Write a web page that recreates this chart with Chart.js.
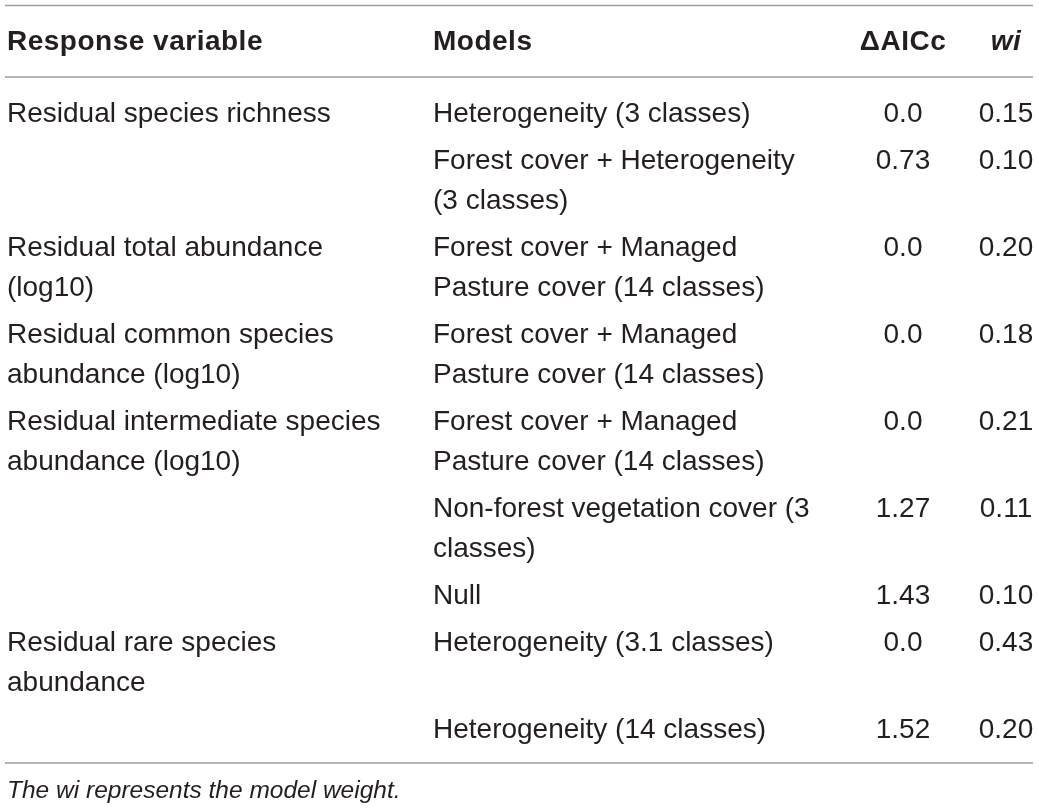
<!DOCTYPE html>
<html>
<head>
<meta charset="utf-8">
<title>Model selection table</title>
<script src="https://cdn.jsdelivr.net/npm/chart.js@4.4.1/dist/chart.umd.min.js"></script>
<style>
  html, body { margin: 0; padding: 0; background: #fff; }
  #wrap { width: 1039px; height: 812px; position: relative; }
</style>
</head>
<body>
<div id="wrap"><canvas id="tableChart"></canvas></div>
<script>
// table content
const headers = ['Response variable', 'Models', '\u0394AICc', 'wi'];
const responses = [
  ['Residual species richness'],
  [],
  ['Residual total abundance', '(log10)'],
  ['Residual common species', 'abundance (log10)'],
  ['Residual intermediate species', 'abundance (log10)'],
  [],
  [],
  ['Residual rare species', 'abundance'],
  []
];
const models = [
  ['Heterogeneity (3 classes)'],
  ['Forest cover + Heterogeneity', '(3 classes)'],
  ['Forest cover + Managed', 'Pasture cover (14 classes)'],
  ['Forest cover + Managed', 'Pasture cover (14 classes)'],
  ['Forest cover + Managed', 'Pasture cover (14 classes)'],
  ['Non-forest vegetation cover (3', 'classes)'],
  ['Null'],
  ['Heterogeneity (3.1 classes)'],
  ['Heterogeneity (14 classes)']
];
const deltaAICc = [0.0, 0.73, 0.0, 0.0, 0.0, 1.27, 1.43, 0.0, 1.52];
const weights = [0.15, 0.10, 0.20, 0.18, 0.21, 0.11, 0.10, 0.43, 0.20];
const footnote = 'The wi represents the model weight.';

// layout (in scale units = px of the 1039x812 canvas)
const colX = [7, 433, 903, 1006];
const colAlign = ['left', 'left', 'center', 'center'];
const headerY = 50;
const firstRowY = 122;
const lineH = 40;
const rowGap = 47;
const rules = [5.5, 77, 763];
const ruleX = [5, 1033];
const footY = 798;

const fmtDelta = v => Number.isInteger(v) ? v.toFixed(1) : String(v);

// build one point per text line, positioned by the chart scales
const cellPts = [[], [], [], []];
let y = firstRowY;
for (let i = 0; i < models.length; i++) {
  responses[i].forEach((t, k) => cellPts[0].push({ x: colX[0], y: y + k * lineH, text: t }));
  models[i].forEach((t, k) => cellPts[1].push({ x: colX[1], y: y + k * lineH, text: t }));
  cellPts[2].push({ x: colX[2], y: y, text: fmtDelta(deltaAICc[i]) });
  cellPts[3].push({ x: colX[3], y: y, text: weights[i].toFixed(2) });
  const n = Math.max(responses[i].length, models[i].length, 1);
  y += rowGap + lineH * (n - 1);
}

const BODY = '28px "Liberation Sans", Arial, sans-serif';
const HEAD = 'bold 28px "Liberation Sans", Arial, sans-serif';
const HEAD_IT = 'italic bold 28px "Liberation Sans", Arial, sans-serif';
const FOOT = 'italic 24.5px "Liberation Sans", Arial, sans-serif';

const datasets = [];
headers.forEach((h, c) => datasets.push({
  label: 'header ' + c,
  data: [{ x: colX[c], y: headerY, text: h }],
  font: c === 3 ? HEAD_IT : HEAD, align: colAlign[c], spacing: 0.5
}));
cellPts.forEach((pts, c) => datasets.push({
  label: 'col ' + c, data: pts, font: BODY, align: colAlign[c], spacing: 0
}));
datasets.push({
  label: 'footnote', data: [{ x: colX[0], y: footY, text: footnote }],
  font: FOOT, align: 'left', spacing: 0
});
datasets.forEach(d => { d.pointRadius = 0; d.pointHoverRadius = 0; });

const tableText = {
  id: 'tableText',
  beforeDatasetsDraw(chart) {
    const { ctx, scales } = chart;
    ctx.save();
    ctx.strokeStyle = '#9d9d9d';
    ctx.lineWidth = 1.5;
    rules.forEach(r => {
      const py = scales.y.getPixelForValue(r);
      ctx.beginPath();
      ctx.moveTo(scales.x.getPixelForValue(ruleX[0]), py);
      ctx.lineTo(scales.x.getPixelForValue(ruleX[1]), py);
      ctx.stroke();
    });
    ctx.restore();
  },
  afterDatasetsDraw(chart) {
    const ctx = chart.ctx;
    ctx.save();
    ctx.fillStyle = '#231f20';
    ctx.textBaseline = 'alphabetic';
    chart.data.datasets.forEach((ds, di) => {
      const meta = chart.getDatasetMeta(di);
      ctx.font = ds.font;
      ctx.textAlign = ds.align;
      if ('letterSpacing' in ctx) ctx.letterSpacing = ds.spacing + 'px';
      meta.data.forEach((el, j) => {
        ctx.fillText(ds.data[j].text, el.x, el.y);
      });
    });
    ctx.restore();
  }
};

new Chart(document.getElementById('tableChart'), {
  type: 'scatter',
  data: { datasets },
  options: {
    responsive: true,
    maintainAspectRatio: false,
    animation: false,
    layout: { padding: 0 },
    plugins: { legend: { display: false }, tooltip: { enabled: false } },
    events: [],
    scales: {
      x: { type: 'linear', min: 0, max: 1039, display: false },
      y: { type: 'linear', min: 0, max: 812, reverse: true, display: false }
    }
  },
  plugins: [tableText]
});
</script>
</body>
</html>
